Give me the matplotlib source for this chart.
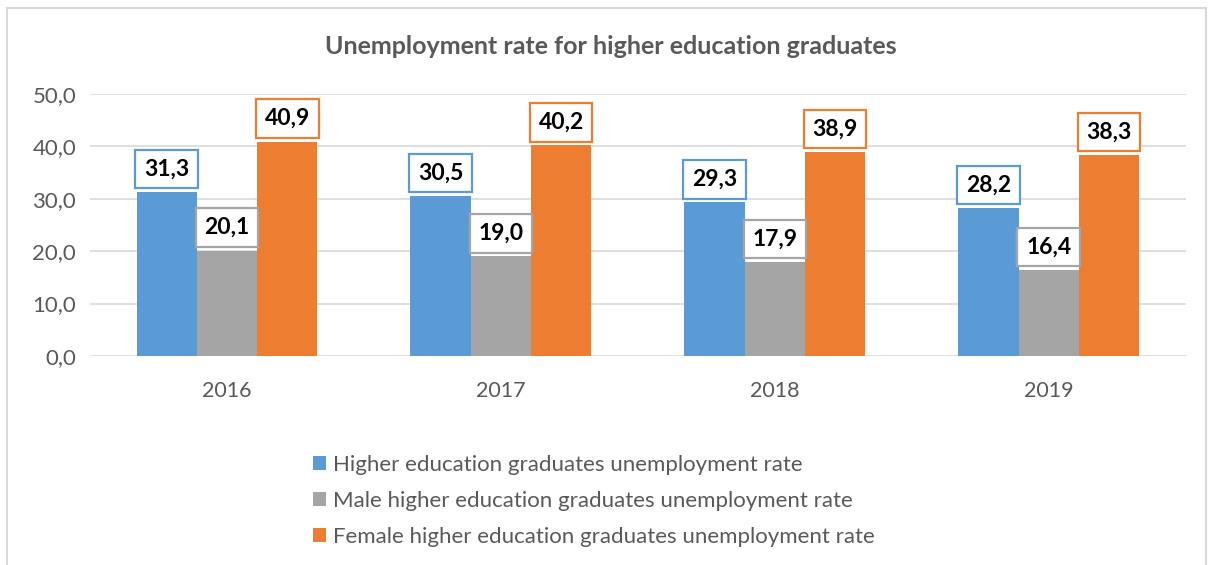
import matplotlib.pyplot as plt
import numpy as np
from matplotlib.patches import Rectangle

# data
years = ["2016", "2017", "2018", "2019"]
total_rate = [31.3, 30.5, 29.3, 28.2]
male_rate = [20.1, 19.0, 17.9, 16.4]
female_rate = [40.9, 40.2, 38.9, 38.3]
series_names = [
    "Higher education graduates unemployment rate",
    "Male higher education graduates unemployment rate",
    "Female higher education graduates unemployment rate",
]
colors = ["#5B9BD5", "#A5A5A5", "#ED7D31"]

plt.rcParams['font.family'] = ['Lato', 'DejaVu Sans']

fig = plt.figure(figsize=(12.16, 5.65), dpi=100)
ax = fig.add_axes([0.074, 0.370, 0.901, 0.4637])

# outer chart border (cut off at the bottom like the screenshot)
fig.patches.append(Rectangle((7 / 1216, -0.05), 1199 / 1216, 1.05 - 8 / 565,
                             transform=fig.transFigure, fill=False,
                             edgecolor="#D9D9D9", linewidth=1.5))

x = np.arange(len(years))
w = 0.22
all_series = [total_rate, male_rate, female_rate]
for i, (vals, name, c) in enumerate(zip(all_series, series_names, colors)):
    pos = x + (i - 1) * w
    ax.bar(pos, vals, width=w, color=c, label=name, zorder=3)
    for px, v in zip(pos, vals):
        ax.annotate(f"{v:.1f}".replace(".", ","), (px, v),
                    xytext=(0, 9), textcoords="offset points",
                    ha="center", va="bottom", fontsize=16.5, fontweight="bold",
                    color="black", zorder=5,
                    bbox=dict(boxstyle="square,pad=0.38", fc="white", ec=c, lw=1.6))

ax.set_xlim(-0.5, 3.5)
ax.set_ylim(0, 50)
ax.set_yticks(np.arange(0, 51, 10))
ax.set_yticklabels([f"{t:.1f}".replace(".", ",") for t in np.arange(0, 51, 10)])
ax.set_xticks(x)
ax.set_xticklabels(years)
ax.tick_params(axis="both", length=0, colors="#595959")
ax.tick_params(axis="y", labelsize=16, pad=10)
ax.tick_params(axis="x", labelsize=15.5, pad=18)
ax.grid(axis="y", color="#D9D9D9", linewidth=1.2, zorder=0)
for s in ax.spines.values():
    s.set_visible(False)

fig.text(0.502, 0.917, "Unemployment rate for higher education graduates",
         ha="center", va="center", fontsize=18, fontweight="bold", color="#595959")

leg = fig.legend(loc="upper left", bbox_to_anchor=(0.257, 0.195), frameon=False,
                 fontsize=16, handlelength=0.6, handleheight=0.6, handletextpad=0.3,
                 labelspacing=0.72, borderaxespad=0, borderpad=0)
for t in leg.get_texts():
    t.set_color("#595959")

fig.savefig("out.png", dpi=100)
